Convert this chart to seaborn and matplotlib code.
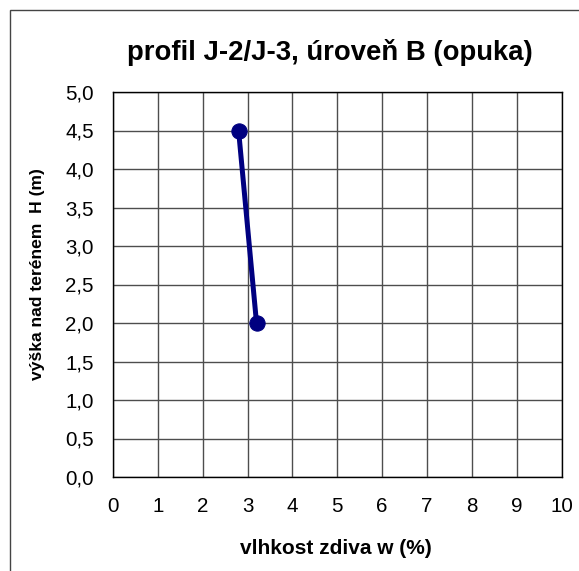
import matplotlib
matplotlib.use("Agg")
import matplotlib.pyplot as plt
import seaborn as sns
import pandas as pd
from matplotlib.patches import Rectangle

moisture = [2.8, 3.2]
height = [4.5, 2.0]
x_ticks = [0, 1, 2, 3, 4, 5, 6, 7, 8, 9, 10]
y_ticks = [0.0, 0.5, 1.0, 1.5, 2.0, 2.5, 3.0, 3.5, 4.0, 4.5, 5.0]
title = "profil J-2/J-3, úroveň B (opuka)"
xlabel = "vlhkost zdiva w (%)"
ylabel = "výška nad terénem  H (m)"

sns.set_theme(style="white")
plt.rcParams['font.family'] = ['Liberation Sans', 'DejaVu Sans']

W, H = 579, 571
fig = plt.figure(figsize=(W / 100, H / 100), dpi=100)
fig.patch.set_facecolor("white")
PX = 72 / 100  # points per pixel

# outer chart border (Excel-like)
fig.patches.append(Rectangle((10 / W, -0.05), 1.2, 1 - 10 / H + 0.05,
                             transform=fig.transFigure, fill=False,
                             edgecolor="#444444", linewidth=1.0))

x0, x1, y0, y1 = 113, 561.5, 92, 477
ax = fig.add_axes([x0 / W, 1 - y1 / H, (x1 - x0) / W, (y1 - y0) / H])

df = pd.DataFrame({"w": moisture, "h": height})
sns.lineplot(data=df, x="w", y="h", ax=ax, sort=False, color="#000080",
             linewidth=3.6, marker="o", markersize=11,
             markeredgecolor="#000080", markerfacecolor="#000080", zorder=5)

ax.set_xlim(0, 10)
ax.set_ylim(0, 5)
ax.set_xticks(x_ticks)
ax.set_yticks(y_ticks)
ax.set_xticklabels([str(t) for t in x_ticks])
ax.set_yticklabels([f"{t:.1f}".replace(".", ",") for t in y_ticks])
ax.grid(True, color="#4d4d4d", linewidth=1.0)
ax.set_axisbelow(True)
for s in ax.spines.values():
    s.set_color("black")
    s.set_linewidth(1.0)
ax.tick_params(axis="both", direction="inout", length=12 * PX, width=1,
               color="black", labelsize=14.8, labelcolor="black")
ax.tick_params(axis="x", pad=14 * PX)
ax.tick_params(axis="y", pad=13 * PX)

ax.set_xlabel(xlabel, fontsize=15, fontweight="bold", color="black")
ax.set_ylabel(ylabel, fontsize=12.6, fontweight="bold", color="black")
ax.xaxis.label.set_va("center")
ax.yaxis.label.set_va("center")
ax.xaxis.set_label_coords((336 - x0) / (x1 - x0), (y1 - 549) / (y1 - y0))
ax.yaxis.set_label_coords((38 - x0) / (x1 - x0), (y1 - 274) / (y1 - y0))

fig.text(330 / W, 1 - 53 / H, title, fontsize=19.8, fontweight="bold",
         ha="center", va="center", color="black")

fig.savefig("out.png", dpi=100, facecolor="white")
